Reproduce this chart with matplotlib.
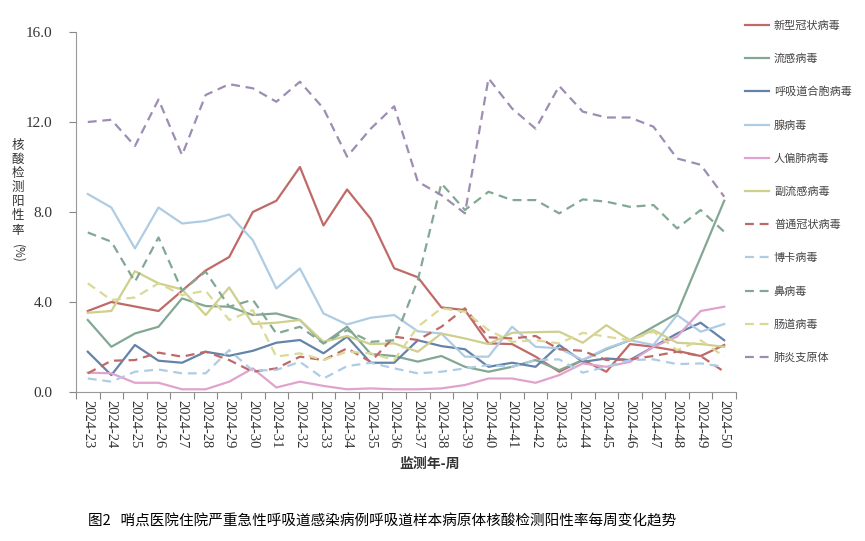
import matplotlib.pyplot as plt
import numpy as np

plt.rcParams['font.serif'] = ['Liberation Serif', 'DejaVu Serif']
plt.rcParams['font.family'] = ['serif', 'Noto Sans CJK SC']

weeks = [f"2024-{w}" for w in range(23, 51)]

# positive rates (%) by week
covid = [3.6, 4.0, 3.8, 3.6, 4.5, 5.4, 6.0, 8.0, 8.5, 10.0, 7.4, 9.0, 7.7, 5.5,
         5.1, 3.76, 3.64, 2.16, 2.13, 1.57, 0.9, 1.42, 0.9, 2.13, 2.01, 1.83, 1.6, 2.09]
flu = [3.2, 2.01, 2.6, 2.9, 4.16, 3.82, 3.79, 3.42, 3.49, 3.2, 2.16, 2.9, 1.69, 1.6,
       1.35, 1.6, 1.12, 0.9, 1.12, 1.42, 0.97, 1.42, 1.9, 2.3, 2.9, 3.49, 6.0, 8.5]
rsv = [1.79, 0.75, 2.09, 1.39, 1.3, 1.79, 1.61, 1.83, 2.19, 2.31, 1.72, 2.46, 1.3, 1.3,
       2.3, 2.04, 1.9, 1.12, 1.3, 1.12, 2.09, 1.34, 1.49, 1.42, 2.01, 2.6, 3.08, 2.3]
adeno = [8.8, 8.2, 6.38, 8.2, 7.49, 7.6, 7.89, 6.75, 4.6, 5.49, 3.49, 3.0, 3.3, 3.42,
         2.7, 2.6, 1.57, 1.57, 2.9, 2.01, 1.94, 1.42, 1.94, 2.3, 2.09, 3.42, 2.68, 3.02]
hmpv = [0.86, 0.83, 0.41, 0.41, 0.12, 0.12, 0.46, 1.05, 0.2, 0.46, 0.27, 0.12, 0.16, 0.12,
        0.12, 0.16, 0.31, 0.6, 0.6, 0.41, 0.75, 1.27, 1.12, 1.34, 2.01, 2.46, 3.6, 3.79]
paraflu = [3.52, 3.6, 5.37, 4.83, 4.56, 3.42, 4.65, 3.02, 3.08, 3.2, 2.23, 2.49, 2.13, 2.16,
           1.79, 2.6, 2.38, 2.13, 2.63, 2.66, 2.68, 2.19, 2.97, 2.3, 2.75, 2.19, 2.13, 2.01]
hcov = [0.83, 1.39, 1.42, 1.75, 1.57, 1.79, 1.42, 0.9, 1.05, 1.57, 1.42, 1.94, 1.34, 2.46,
        2.31, 2.9, 3.72, 2.43, 2.38, 2.49, 1.9, 1.83, 1.42, 1.45, 1.6, 1.79, 1.6, 0.9]
boca = [0.6, 0.46, 0.9, 1.0, 0.83, 0.83, 1.86, 0.95, 0.98, 1.34, 0.6, 1.15, 1.3, 1.05,
        0.83, 0.9, 1.05, 1.2, 1.12, 1.42, 1.45, 0.86, 1.12, 1.42, 1.45, 1.24, 1.27, 1.12]
rhino = [7.09, 6.68, 4.9, 6.87, 4.5, 5.35, 3.79, 4.1, 2.6, 2.9, 2.16, 2.75, 2.23, 2.3,
         4.97, 9.27, 8.09, 8.9, 8.53, 8.53, 7.94, 8.56, 8.46, 8.23, 8.31, 7.27, 8.09, 7.12]
entero = [4.83, 4.09, 4.2, 4.83, 4.31, 4.5, 3.2, 3.64, 1.57, 1.72, 1.42, 1.79, 1.72, 1.42,
          2.9, 3.72, 3.57, 2.75, 2.23, 2.3, 2.16, 2.63, 2.46, 2.3, 2.68, 1.86, 2.3, 1.57]
myco = [12.0, 12.1, 10.93, 13.0, 10.53, 13.2, 13.68, 13.5, 12.9, 13.79, 12.6, 10.46, 11.7, 12.7,
        9.35, 8.75, 7.94, 13.94, 12.6, 11.7, 13.6, 12.46, 12.2, 12.2, 11.79, 10.38, 10.1, 8.68]

series = [
    ("新型冠状病毒", covid, '#c06a68', '-'),
    ("流感病毒", flu, '#82a894', '-'),
    ("呼吸道合胞病毒", rsv, '#6483aa', '-'),
    ("腺病毒", adeno, '#aecce4', '-'),
    ("人偏肺病毒", hmpv, '#e0a3cc', '-'),
    ("副流感病毒", paraflu, '#cfcf8e', '-'),
    ("普通冠状病毒", hcov, '#c06a68', '--'),
    ("博卡病毒", boca, '#aecce4', '--'),
    ("鼻病毒", rhino, '#82a894', '--'),
    ("肠道病毒", entero, '#dada96', '--'),
    ("肺炎支原体", myco, '#9d8db3', '--'),
]

serif = ['serif']
cjk = ['Noto Sans CJK SC']

fig = plt.figure(figsize=(8.65, 5.41), dpi=100)
ax = fig.add_axes([76 / 865, 1 - 392 / 541, 660 / 865, 360 / 541])

x = np.arange(len(weeks))
for label, vals, color, ls in series:
    ax.plot(x, vals, color=color, linestyle=ls, linewidth=1.6, label=label,
            dashes=(4, 2.6) if ls == '--' else (None, None))

ax.set_xlim(-0.5, len(weeks) - 0.5)
ax.set_ylim(0, 16)
ax.set_yticks([0, 4, 8, 12, 16])
ax.set_yticklabels([f"{v:.1f}" for v in [0, 4, 8, 12, 16]], fontsize=11,
                   family=serif, color='#333333')
ax.set_xticks(np.arange(-0.5, len(weeks), 1.0))
ax.set_xticklabels([])
ax.set_xticks(x, minor=True)
ax.set_xticklabels(weeks, minor=True, rotation=-90, fontsize=10.5, family=serif,
                   color='#333333')
ax.tick_params(axis='x', which='major', length=5, color='#888888')
ax.tick_params(axis='x', which='minor', length=0, pad=6)
ax.tick_params(axis='y', length=5, color='#888888', pad=12)

for s in ['top', 'right']:
    ax.spines[s].set_visible(False)
for s in ['left', 'bottom']:
    ax.spines[s].set_color('#999999')

# vertical y-axis title
ylab = "核酸检测阳性率"
for i, ch in enumerate(ylab):
    fig.text(18 / 865, 1 - (145 + i * 14.2) / 541, ch, ha='center', va='center',
             fontsize=9, family=cjk, color='#333333')
fig.text(18 / 865, 1 - 253 / 541, "(%)", ha='center', va='center', rotation=-90,
         fontsize=8.5, family=cjk, color='#333333')

fig.text(430 / 865, 1 - 464 / 541, "监测年-周", ha='center', va='center',
         fontsize=10, fontweight='bold', family=cjk, color='#333333')
fig.text(88 / 865, 1 - 521 / 541,
         "图2   哨点医院住院严重急性呼吸道感染病例呼吸道样本病原体核酸检测阳性率每周变化趋势",
         ha='left', va='center', fontsize=10.5, family=cjk)

leg = ax.legend(loc='upper left', bbox_to_anchor=(745 / 865, 1 - 20 / 541),
                bbox_transform=fig.transFigure, frameon=False, ncol=1,
                prop={'family': cjk, 'size': 8},
                handlelength=2.2, handletextpad=0.4, labelspacing=2.05, borderpad=0,
                borderaxespad=0)
for t in leg.get_texts():
    t.set_color('#444444')

fig.savefig("out.png", dpi=100)
